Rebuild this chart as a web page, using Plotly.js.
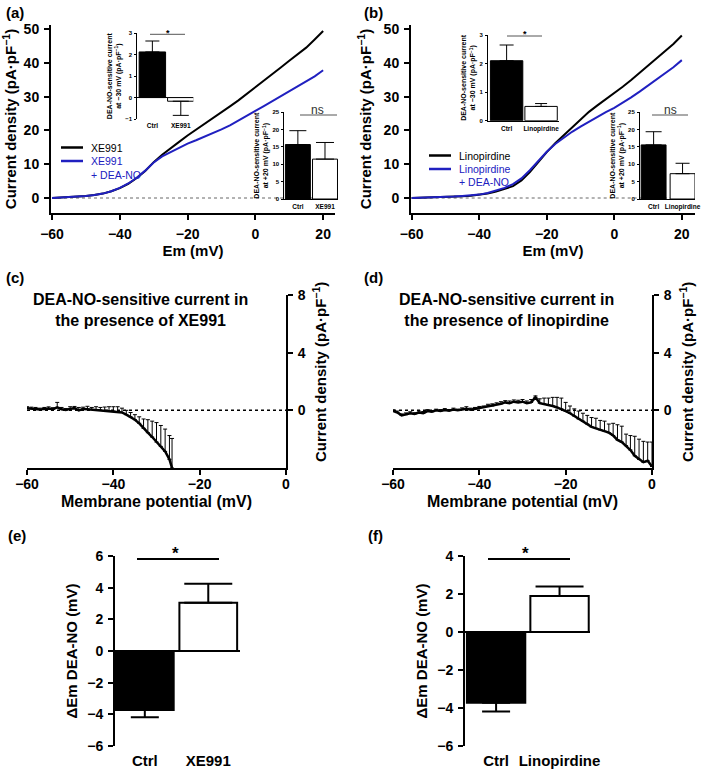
<!DOCTYPE html>
<html>
<head>
<meta charset="utf-8">
<script src="https://cdn.plot.ly/plotly-3.0.1.min.js"></script>
<style>
  html, body { margin: 0; padding: 0; background: #fff; }
  #fig { width: 709px; height: 772px; }
</style>
</head>
<body>
<div id="fig"></div>
<script>
// ---- (a) / (b) current-voltage curves ----
const emIV = [-60, -57.5, -55, -52.5, -50, -47.5, -45, -42.5, -40, -37.5, -35, -32.5, -30,
  -27.5, -25, -22.5, -20, -17.5, -15, -12.5, -10, -7.5, -5, -2.5, 0, 2.5, 5, 7.5, 10, 12.5, 15, 17.5, 20];
const xe991 = [0, 0.1, 0.2, 0.4, 0.6, 0.9, 1.3, 2.0, 2.9, 4.2, 5.9, 8.0, 10.6,
  12.8, 14.6, 16.6, 18.5, 20.2, 21.8, 23.6, 25.3, 27.1, 28.9, 30.8, 32.8, 34.6, 36.5, 38.6, 40.6, 42.5, 44.5, 46.9, 49.4];
const xe991Dea = [0, 0.1, 0.2, 0.4, 0.6, 0.9, 1.3, 2.0, 3.0, 4.3, 6.0, 8.1, 10.5,
  12.3, 13.6, 14.9, 16.1, 17.1, 18.1, 19.1, 20.3, 21.5, 23.0, 24.4, 25.8, 27.2, 28.7, 30.2, 31.7, 33.1, 34.5, 36.0, 37.8];
const lino = [0, 0.05, 0.1, 0.2, 0.3, 0.4, 0.5, 0.7, 0.9, 1.3, 1.9, 2.6, 3.5,
  5.2, 7.7, 10.6, 13.6, 16.2, 18.6, 21.0, 23.3, 25.5, 27.4, 29.2, 31.0, 32.9, 34.9, 37.0, 39.1, 41.2, 43.4, 45.6, 48.1];
const linoDea = [0, 0.05, 0.1, 0.2, 0.3, 0.45, 0.6, 0.8, 1.0, 1.5, 2.2, 3.0, 4.1,
  5.8, 8.2, 10.9, 13.7, 16.0, 17.8, 19.6, 21.1, 22.6, 24.1, 25.4, 26.7, 28.2, 29.8, 31.5, 33.3, 35.0, 36.8, 38.7, 40.8];

// ---- inset bar values (mean, sem) ----
const catsXe = ['Ctrl', 'XE991'];
const catsLino = ['Ctrl', 'Linopirdine'];
const xeAt30 = [2.13, -0.17], xeAt30Err = [0.51, 0.66];
const xeAt20 = [15.7, 11.5], xeAt20Err = [4.0, 4.8];
const linoAt30 = [2.1, 0.5], linoAt30Err = [0.55, 0.1];
const linoAt20 = [15.6, 7.3], linoAt20Err = [3.8, 3.0];

// ---- (c) DEA-NO-sensitive current with XE991 ----
const emC = [-60, -59, -58, -57, -56, -55, -54, -53, -52, -51, -50, -49, -48, -47, -46, -45, -44, -43, -42, -41,
  -40, -39, -38, -37, -36, -35, -34, -33, -32, -31, -30, -29, -28, -27, -26.4];
const curC = [0.15, 0.12, 0.08, 0.05, 0.1, 0.12, 0.08, 0.2, 0.08, 0.02, 0.1, 0.15, 0.0, 0.1, 0.08, 0.05, 0.05, 0.0, -0.02, -0.05,
  -0.05, -0.1, -0.15, -0.3, -0.45, -0.65, -0.9, -1.25, -1.55, -1.85, -2.2, -2.5, -2.85, -3.4, -4.0];
const semC = [0.1, 0.1, 0.12, 0.1, 0.1, 0.12, 0.1, 0.35, 0.12, 0.1, 0.15, 0.12, 0.2, 0.12, 0.2, 0.15, 0.2, 0.2, 0.25, 0.3,
  0.3, 0.35, 0.3, 0.3, 0.3, 0.35, 0.45, 0.65, 0.9, 1.1, 1.35, 1.45, 1.55, 1.65, 2.05];

// ---- (d) DEA-NO-sensitive current with linopirdine ----
const emD = [];
for (let v = -60; v <= 0; v++) emD.push(v);
const curD = [-0.05, -0.15, -0.35, -0.3, -0.2, -0.25, -0.15, -0.2, -0.05, -0.1,
  0.0, -0.05, 0.02, -0.02, 0.05, 0.0, 0.05, 0.1, 0.05, 0.1,
  0.15, 0.2, 0.3, 0.3, 0.4, 0.45, 0.55, 0.5, 0.6, 0.55,
  0.6, 0.5, 0.55, 0.9, 0.5, 0.45, 0.35, 0.3, 0.2, 0.1,
  -0.05, -0.2, -0.4, -0.6, -0.75, -0.95, -1.15, -1.25, -1.35, -1.45,
  -1.55, -1.75, -2.05, -2.2, -2.45, -2.75, -3.15, -3.4, -3.6, -3.5, -3.9];
const semD = [0.08, 0.1, 0.1, 0.12, 0.1, 0.08, 0.1, 0.12, 0.1, 0.08,
  0.08, 0.1, 0.1, 0.08, 0.1, 0.08, 0.12, 0.15, 0.1, 0.1,
  0.12, 0.1, 0.12, 0.15, 0.12, 0.15, 0.12, 0.15, 0.12, 0.15,
  0.15, 0.15, 0.2, 0.1, 0.3, 0.4, 0.5, 0.6, 0.7, 0.75,
  0.6, 0.5, 0.5, 0.55, 0.55, 0.6, 0.65, 0.7, 0.65, 0.7,
  0.6, 0.85, 1.05, 1.1, 0.8, 1.0, 1.35, 1.4, 1.45, 1.3, 1.7];

// ---- (e) / (f) change in Em ----
const dEmXe = [-3.73, 3.05], dEmXeErr = [0.46, 1.2];
const dEmLino = [-3.72, 1.89], dEmLinoErr = [0.47, 0.5];

const W = 709, H = 772;
const FONT = 'Liberation Sans, Arial, sans-serif';
const BLUE = '#2020c0';
const px = (a, b) => [a / W, b / W];
const py = (top, bot) => [1 - bot / H, 1 - top / H];
const F = (size, weight = 700, color = '#000') => ({family: FONT, size: size, weight: weight, color: color});

function axis(extra) {
  return Object.assign({
    showgrid: false, zeroline: false, showline: true, linecolor: '#000', linewidth: 2,
    ticks: 'outside', ticklen: 5, tickwidth: 2, tickcolor: '#000', tickfont: F(14), fixedrange: true
  }, extra);
}
function insetY(extra) {
  return axis(Object.assign({linewidth: 1, ticklen: 2, tickwidth: 1, tickfont: F(6), ticklabelstandoff: 1}, extra));
}
function insetX(extra) {
  return axis(Object.assign({linewidth: 1, ticks: '', tickfont: F(6.5), ticklabelstandoff: 1}, extra));
}

function line(x, y, xa, ya, color, width) {
  return {type: 'scatter', mode: 'lines', x: x, y: y, xaxis: xa, yaxis: ya,
    line: {color: color, width: width}, hoverinfo: 'skip'};
}
function meanSem(x, y, err, xa, ya) {
  return {type: 'scatter', mode: 'lines', x: x, y: y, xaxis: xa, yaxis: ya,
    line: {color: '#000', width: 2.5}, hoverinfo: 'skip',
    error_y: {type: 'data', symmetric: false, array: err, arrayminus: err.map(() => 0),
      color: '#000', thickness: 1, width: 2}};
}
function bar(xa, ya, label, value, err, fill, lw, bw, capw) {
  return {type: 'bar', x: [label], y: [value], xaxis: xa, yaxis: ya, width: [bw],
    marker: {color: fill, line: {color: '#000', width: lw}}, hoverinfo: 'skip',
    error_y: {type: 'data', symmetric: false, array: [value >= 0 ? err : 0], arrayminus: [value < 0 ? err : 0],
      color: '#000', thickness: lw, width: capw}};
}
function pair(xa, ya, cats, vals, errs, lw, bw, caps) {
  return [bar(xa, ya, cats[0], vals[0], errs[0], '#000', lw, bw, caps[0]),
          bar(xa, ya, cats[1], vals[1], errs[1], '#fff', lw, bw, caps[1])];
}

const data = [
  line(emIV, xe991, 'x', 'y', '#000', 2),
  line(emIV, xe991Dea, 'x', 'y', BLUE, 2),
  line(emIV, lino, 'x4', 'y4', '#000', 2),
  line(emIV, linoDea, 'x4', 'y4', BLUE, 2),
  ...pair('x2', 'y2', catsXe, xeAt30, xeAt30Err, 1, 0.93, [7, 8]),
  ...pair('x3', 'y3', catsXe, xeAt20, xeAt20Err, 1, 0.92, [8.5, 9]),
  ...pair('x5', 'y5', catsLino, linoAt30, linoAt30Err, 1, 0.94, [7, 6]),
  ...pair('x6', 'y6', catsLino, linoAt20, linoAt20Err, 1, 0.86, [8, 7]),
  meanSem(emC, curC, semC, 'x7', 'y7'),
  meanSem(emD, curD, semD, 'x8', 'y8'),
  ...pair('x9', 'y9', catsXe, dEmXe, dEmXeErr, 2, 0.91, [14, 24]),
  ...pair('x10', 'y10', catsLino, dEmLino, dEmLinoErr, 2, 0.92, [14, 24])
];

const ivTicks = [-60, -40, -20, 0, 20];
const cdTitle = 'Current density (pA·pF<sup>−1</sup>)';
const sens30 = 'DEA-NO-sensitive current<br>at −30 mV (pA·pF<sup>−1</sup>)';
const sens20 = 'DEA-NO-sensitive current<br>at +20 mV (pA·pF<sup>−1</sup>)';

const layout = {
  width: W, height: H, margin: {l: 0, r: 0, t: 0, b: 0},
  paper_bgcolor: '#fff', plot_bgcolor: 'rgba(0,0,0,0)',
  showlegend: false, barmode: 'overlay',
  font: F(14),
  // (a)
  xaxis: axis({domain: px(51, 335), range: [-60.3, 23.5], anchor: 'y', tickvals: ivTicks, ticklabelstandoff: 2,
    title: {text: 'Em (mV)', font: F(15), standoff: 2}}),
  yaxis: axis({domain: py(25, 213), range: [-4.44, 51.2], anchor: 'x', tickvals: [0, 10, 20, 30, 40, 50], ticklabelstandoff: 2,
    title: {text: cdTitle, font: F(15), standoff: 8}}),
  xaxis2: insetX({domain: px(137.3, 193.3), range: [-0.53, 1.44], anchor: 'y2', showline: false}),
  yaxis2: insetY({domain: py(33.3, 119), range: [-1, 3], anchor: 'x2', tickvals: [-1, 0, 1, 2, 3],
    zeroline: true, zerolinecolor: '#000', zerolinewidth: 1, title: {text: sens30, font: F(7), standoff: 2}}),
  xaxis3: insetX({domain: px(284.3, 338.3), range: [-0.5, 1.49], anchor: 'y3'}),
  yaxis3: insetY({domain: py(112.3, 199), range: [0, 25], anchor: 'x3', tickvals: [0, 5, 10, 15, 20, 25],
    title: {text: sens20, font: F(7), standoff: 2}}),
  // (b)
  xaxis4: axis({domain: px(411, 695), range: [-60.2, 23.9], anchor: 'y4', tickvals: ivTicks, ticklabelstandoff: 2,
    title: {text: 'Em (mV)', font: F(15), standoff: 2}}),
  yaxis4: axis({domain: py(25, 213), range: [-4.44, 51.2], anchor: 'x4', tickvals: [0, 10, 20, 30, 40, 50], ticklabelstandoff: 2,
    title: {text: cdTitle, font: F(15), standoff: 8}}),
  xaxis5: insetX({domain: px(488, 559), range: [-0.54, 1.52], anchor: 'y5'}),
  yaxis5: insetY({domain: py(35, 120.7), range: [0, 3], anchor: 'x5', tickvals: [0, 1, 2, 3],
    title: {text: sens30, font: F(7), standoff: 2}}),
  xaxis6: insetX({domain: px(640, 695), range: [-0.47, 1.43], anchor: 'y6'}),
  yaxis6: insetY({domain: py(112.3, 199), range: [0, 25], anchor: 'x6', tickvals: [0, 5, 10, 15, 20, 25],
    title: {text: sens20, font: F(7), standoff: 2}}),
  // (c)
  xaxis7: axis({domain: px(27, 286), range: [-60, 0], anchor: 'y7', tickvals: [-60, -40, -20, 0], ticklabelstandoff: -3,
    title: {text: 'Membrane potential (mV)', font: F(16), standoff: 5}}),
  yaxis7: axis({domain: py(295, 468), range: [-4, 8], anchor: 'x7', side: 'right', tickvals: [0, 4, 8], ticklabelstandoff: 2}),
  // (d)
  xaxis8: axis({domain: px(393, 652), range: [-60, 0], anchor: 'y8', tickvals: [-60, -40, -20, 0], ticklabelstandoff: -3,
    title: {text: 'Membrane potential (mV)', font: F(16), standoff: 5}}),
  yaxis8: axis({domain: py(295, 468), range: [-4, 8], anchor: 'x8', side: 'right', tickvals: [0, 4, 8], ticklabelstandoff: 2}),
  // (e)
  xaxis9: axis({domain: px(115, 240), range: [-0.47, 1.5], anchor: 'y9', showline: false, ticks: '',
    tickfont: F(15), ticklabelstandoff: 4}),
  yaxis9: axis({domain: py(556, 746), range: [-6, 6], anchor: 'x9', tickvals: [-6, -4, -2, 0, 2, 4, 6], ticklabelstandoff: 2,
    zeroline: true, zerolinecolor: '#000', zerolinewidth: 2, title: {text: 'ΔEm DEA-NO (mV)', font: F(15), standoff: 6}}),
  // (f)
  xaxis10: axis({domain: px(465, 590), range: [-0.49, 1.48], anchor: 'y10', showline: false, ticks: '',
    tickfont: F(15), ticklabelstandoff: 4}),
  yaxis10: axis({domain: py(556, 746), range: [-6, 4], anchor: 'x10', tickvals: [-6, -4, -2, 0, 2, 4], ticklabelstandoff: 2,
    zeroline: true, zerolinecolor: '#000', zerolinewidth: 2, title: {text: 'ΔEm DEA-NO (mV)', font: F(15), standoff: 6}})
};

// text placed in pixel positions
function note(text, x, y, o) {
  return Object.assign({text: text, x: x / W, y: 1 - y / H, xref: 'paper', yref: 'paper',
    xanchor: 'center', yanchor: 'middle', showarrow: false, font: F(15)}, o || {});
}
const L = {xanchor: 'left'};
layout.annotations = [
  note('(a)', 4, 13, L), note('(b)', 362, 13, L), note('(c)', 4, 278, L),
  note('(d)', 362, 278, L), note('(e)', 6, 535, L), note('(f)', 366, 535, L),
  note('DEA-NO-sensitive current in<br>the presence of XE991', 140, 310, {font: F(16)}),
  note('DEA-NO-sensitive current in<br>the presence of linopirdine', 506, 310, {font: F(16)}),
  note(cdTitle, 320, 372, {textangle: -90}),
  note(cdTitle, 687, 372, {textangle: -90}),
  // legends
  note('XE991', 89, 147.5, {xanchor: 'left', font: F(10.5, 400)}),
  note('XE991', 89, 161, {xanchor: 'left', font: F(10.5, 400, BLUE)}),
  note('+ DEA-NO', 89, 174.5, {xanchor: 'left', font: F(10.5, 400, BLUE)}),
  note('Linopirdine', 457, 155.5, {xanchor: 'left', font: F(10.5, 400)}),
  note('Linopirdine', 457, 169, {xanchor: 'left', font: F(10.5, 400, BLUE)}),
  note('+ DEA-NO', 457, 182.5, {xanchor: 'left', font: F(10.5, 400, BLUE)}),
  // significance marks
  note('*', 168, 32.5, {font: F(9, 700)}),
  note('ns', 317, 110, {font: F(12, 400, '#333')}),
  note('*', 525, 33.5, {font: F(9, 700)}),
  note('ns', 670, 110, {font: F(12, 400, '#333')}),
  note('*', 175, 553, {font: F(17, 700)}),
  note('*', 525, 553, {font: F(17, 700)})
];

function seg(x0, y0, x1, y1, color, width, dash) {
  return {type: 'line', xref: 'paper', yref: 'paper', x0: x0 / W, x1: x1 / W, y0: 1 - y0 / H, y1: 1 - y1 / H,
    line: {color: color, width: width, dash: dash || 'solid'}};
}
function zeroRef(xa, ya, x1, color, width, dash) {
  return {type: 'line', xref: xa, yref: ya, x0: -60, x1: x1, y0: 0, y1: 0, layer: 'below',
    line: {color: color, width: width, dash: dash}};
}
layout.shapes = [
  zeroRef('x', 'y', 23, '#666', 1, 'dot'),
  zeroRef('x4', 'y4', 23, '#666', 1, 'dot'),
  zeroRef('x7', 'y7', 0, '#000', 1.5, '3px,3px'),
  zeroRef('x8', 'y8', 0, '#000', 1.5, '3px,3px'),
  seg(61, 147.5, 83, 147.5, '#000', 2.5), seg(61, 161, 83, 161, BLUE, 2.5),
  seg(429, 155.5, 451, 155.5, '#000', 2.5), seg(429, 169, 451, 169, BLUE, 2.5),
  seg(150, 34.3, 185, 34.3, '#555', 1), seg(300, 115, 337, 115, '#555', 1),
  seg(507, 36, 542, 36, '#555', 1), seg(652, 115, 688, 115, '#555', 1),
  seg(137, 559, 219, 559, '#000', 2), seg(488, 559, 570, 559, '#000', 2)
];

Plotly.newPlot('fig', data, layout, {displayModeBar: false, staticPlot: true});
</script>
</body>
</html>
